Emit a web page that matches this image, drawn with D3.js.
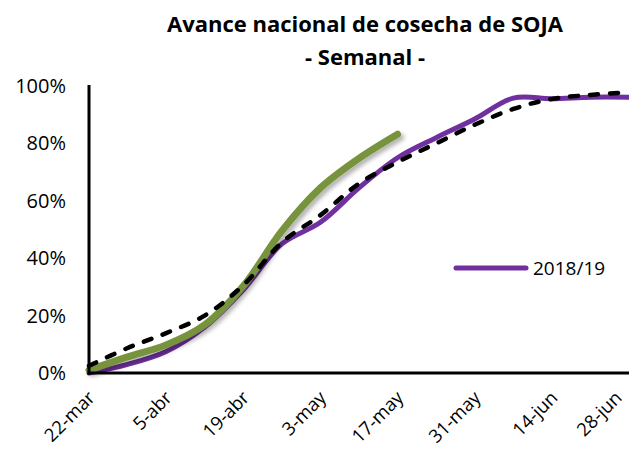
<!DOCTYPE html>
<html>
<head>
<meta charset="utf-8">
<script src="https://cdn.jsdelivr.net/npm/d3@7"></script>
<style>
  body { margin: 0; background: #fff; }
  svg { display: block; font-family: "Open Sans", Lato, sans-serif; }
</style>
</head>
<body>
<div id="chart"></div>
<script>
// weekly dates, 22-mar .. 28-jun
var semanas = ["22-mar", "29-mar", "5-abr", "12-abr", "19-abr", "26-abr", "3-may",
  "10-may", "17-may", "24-may", "31-may", "7-jun", "14-jun", "21-jun", "28-jun"];
var etiquetas = ["22-mar", "5-abr", "19-abr", "3-may", "17-may", "31-may", "14-jun", "28-jun"];
var yTicks = [0, 0.2, 0.4, 0.6, 0.8, 1];

// 2018/19 (purple)
var campania1819 = [0, 0.03, 0.075, 0.16, 0.29, 0.45, 0.525, 0.645, 0.75, 0.82, 0.885, 0.958, 0.956, 0.961, 0.961];
// current season (green), up to 17-may
var campaniaActual = [0.01, 0.056, 0.098, 0.168, 0.303, 0.495, 0.645, 0.748, 0.832];
// average (black dashed)
var promedio = [0.025, 0.087, 0.139, 0.2, 0.306, 0.455, 0.55, 0.66, 0.735, 0.8, 0.865, 0.92, 0.955, 0.969, 0.978];

var width = 629, height = 453;
var margin = { top: 86, right: 0, bottom: 80, left: 89 };

var svg = d3.select("#chart").append("svg")
  .attr("width", width)
  .attr("height", height);

var defs = svg.append("defs");
var f = defs.append("filter").attr("id", "sombra")
  .attr("x", "-10%").attr("y", "-10%").attr("width", "130%").attr("height", "130%");
f.append("feDropShadow")
  .attr("dx", 3).attr("dy", 3).attr("stdDeviation", 2.2)
  .attr("flood-color", "#000").attr("flood-opacity", 0.3);

var x = d3.scalePoint()
  .domain(semanas)
  .range([margin.left, width - margin.right]);

var y = d3.scaleLinear()
  .domain([0, 1])
  .range([height - margin.bottom, margin.top]);

// title
svg.append("text")
  .attr("x", 365).attr("y", 32)
  .attr("text-anchor", "middle")
  .style("font-size", "22px").style("font-weight", "bold")
  .text("Avance nacional de cosecha de SOJA");
svg.append("text")
  .attr("x", 365).attr("y", 65)
  .attr("text-anchor", "middle")
  .style("font-size", "22px").style("font-weight", "bold")
  .text("- Semanal -");

// y labels
svg.selectAll(".ylab")
  .data(yTicks)
  .enter().append("text")
  .attr("class", "ylab")
  .attr("x", 66)
  .attr("y", function (d) { return y(d) + 7; })
  .attr("text-anchor", "end")
  .style("font-size", "20px")
  .attr("fill", "#000")
  .text(d3.format(".0%"));

// x labels (rotated)
svg.selectAll(".xlab")
  .data(etiquetas)
  .enter().append("text")
  .attr("class", "xlab")
  .attr("transform", function (d) {
    var px = Math.min(x(d) + 7, 623);
    return "translate(" + px + "," + 399 + ") rotate(-45)";
  })
  .attr("text-anchor", "end")
  .style("font-size", "18.5px")
  .attr("fill", "#000")
  .text(function (d) { return d; });

var line = d3.line()
  .x(function (d, i) { return x(semanas[i]); })
  .y(function (d) { return y(d); })
  .curve(d3.curveCatmullRom.alpha(0.5));

svg.append("path")
  .datum(campania1819)
  .attr("d", line)
  .attr("fill", "none")
  .attr("stroke", "#7030A0")
  .attr("stroke-width", 5)
  .attr("stroke-linecap", "round");

svg.append("path")
  .datum(campaniaActual)
  .attr("d", line)
  .attr("fill", "none")
  .attr("stroke", "#77933C")
  .attr("stroke-width", 7)
  .attr("stroke-linecap", "round")
  .attr("filter", "url(#sombra)");

svg.append("path")
  .datum(promedio)
  .attr("d", line)
  .attr("fill", "none")
  .attr("stroke", "#000")
  .attr("stroke-width", 4.5)
  .attr("stroke-dasharray", "8,12")
  .attr("stroke-linecap", "round");

// axes lines
svg.append("line")
  .attr("x1", margin.left).attr("x2", margin.left)
  .attr("y1", y(1) - 1).attr("y2", y(0) + 1.5)
  .attr("stroke", "#000").attr("stroke-width", 3);
svg.append("line")
  .attr("x1", margin.left - 1.5).attr("x2", width)
  .attr("y1", y(0)).attr("y2", y(0))
  .attr("stroke", "#000").attr("stroke-width", 3);

// legend
var legend = svg.append("g").attr("transform", "translate(456,268)");
legend.append("line")
  .attr("x1", 0).attr("x2", 70).attr("y1", 0).attr("y2", 0)
  .attr("stroke", "#7030A0").attr("stroke-width", 5)
  .attr("stroke-linecap", "round");
legend.append("text")
  .attr("x", 77).attr("y", 7)
  .style("font-size", "19px")
  .text("2018/19");
</script>
</body>
</html>
